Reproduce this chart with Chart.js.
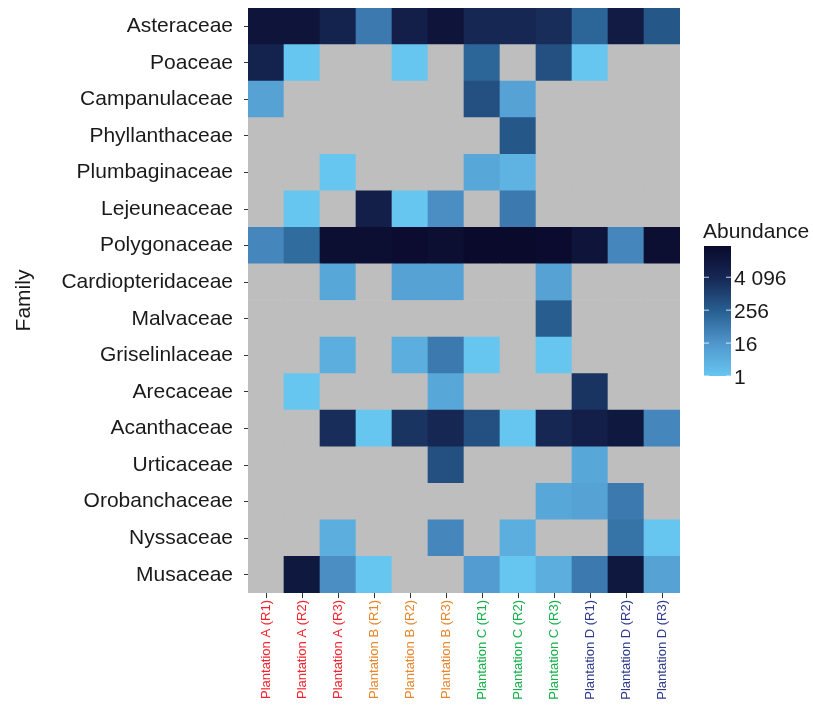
<!DOCTYPE html>
<html>
<head>
<meta charset="utf-8">
<script src="https://cdn.jsdelivr.net/npm/chart.js@4.4.1/dist/chart.umd.min.js"></script>
<style>
body{margin:0;background:#fff;}
canvas{display:block;}
</style>
</head>
<body>
<canvas id="heatmap" width="813" height="709"></canvas>
<script>

const families=["Asteraceae","Poaceae","Campanulaceae","Phyllanthaceae","Plumbaginaceae","Lejeuneaceae","Polygonaceae","Cardiopteridaceae","Malvaceae","Griselinlaceae","Arecaceae","Acanthaceae","Urticaceae","Orobanchaceae","Nyssaceae","Musaceae"];

const samples=["Plantation A (R1)","Plantation A (R2)","Plantation A (R3)","Plantation B (R1)","Plantation B (R2)","Plantation B (R3)","Plantation C (R1)","Plantation C (R2)","Plantation C (R3)","Plantation D (R1)","Plantation D (R2)","Plantation D (R3)"];

const sampleColors=["#f5222d","#f5222d","#f5222d","#e8862c","#e8862c","#e8862c","#14b04a","#14b04a","#14b04a","#2e3a8e","#2e3a8e","#2e3a8e"];

// abundance per family (rows) and sample (columns), null = not found
const abundance=[
[23000,23000,5800,64,8192,23000,4096,4096,2900,180,11600,360],
[5800,1,null,null,1,null,180,null,512,1,null,null],
[8,null,null,null,null,null,512,8,null,null,null,null],
[null,null,null,null,null,null,null,360,null,null,null,null],
[null,null,1,null,null,null,6,3,null,null,null,null],
[null,1,null,8192,1,23,null,64,null,null,null,null],
[32,128,40000,40000,46000,40000,57000,57000,50000,23000,32,40000],
[null,null,6,null,8,8,null,null,8,null,null,null],
[null,null,null,null,null,null,null,null,256,null,null,null],
[null,null,4,null,4,64,1,null,1,null,null,null],
[null,1,null,null,null,6,null,null,null,2048,null,null],
[null,null,2900,1,2048,4096,512,1,4096,8192,16384,32],
[null,null,null,null,null,512,null,null,null,6,null,null],
[null,null,null,null,null,null,null,null,6,8,64,null],
[null,null,4,null,null,32,null,4,null,null,90,1],
[null,16384,23,1,null,null,11,1,4,64,16384,8]
];

const legendTicks=[1,16,256,4096];
const legendMax=57000;

const naColor="#bdbebd";
const stops=[[0,[103,198,240]],[0.25,[80,150,205]],[0.5,[40,95,145]],[0.75,[22,40,85]],[1,[10,10,45]]];
const fontFamily="'Liberation Sans', Arial, sans-serif";

function fillColor(v){
if(v===null) return naColor;
let t=Math.log2(v)/Math.log2(legendMax);
t=Math.max(0,Math.min(1,t));
for(let i=1;i<stops.length;i++){
if(t<=stops[i][0]){
let a=stops[i-1],b=stops[i];
let f=(t-a[0])/(b[0]-a[0]);
let c=a[1].map((x,k)=>Math.round(x+(b[1][k]-x)*f));
return "rgb("+c.join(",")+")";
}
}
return "rgb(10,10,45)";
}

// bottom row first so it stacks at the bottom
const datasets=[];
for(let r=families.length-1;r>=0;r--){
datasets.push({
label:families[r],
data:samples.map(()=>1),
backgroundColor:abundance[r].map(fillColor),
borderWidth:0,
barPercentage:1,
categoryPercentage:1
});
}

const colorBar={
id:"colorBar",
afterDraw(chart){
const c=chart.ctx;
const x=704,w=27,top=246,bottom=376;
const lmax=Math.log2(legendMax);
let g=c.createLinearGradient(0,bottom,0,top);
for(let i=0;i<=20;i++){
g.addColorStop(i/20,fillColor(Math.pow(2,lmax*i/20)));
}
c.save();
c.fillStyle=g;
c.fillRect(x,top,w,bottom-top);
c.font="21px "+fontFamily;
c.fillStyle="#1a1a1a";
c.textBaseline="alphabetic";
c.fillText("Abundance",703,238);
c.textBaseline="middle";
legendTicks.forEach(v=>{
let y=bottom-(Math.log2(v)/lmax)*(bottom-top);
c.strokeStyle="rgba(255,255,255,0.8)";
c.lineWidth=1;
c.beginPath();
c.moveTo(x,y);c.lineTo(x+5,y);
c.moveTo(x+w-5,y);c.lineTo(x+w,y);
c.stroke();
c.fillStyle="#1a1a1a";
c.fillText(v===4096?"4 096":String(v),x+w+3,y+2);
});
c.restore();
}
};

const ctx=document.getElementById("heatmap");

const chart=new Chart(ctx,{
type:"bar",
data:{labels:samples,datasets:datasets},
options:{
responsive:false,
animation:false,
layout:{padding:{top:8,right:133,left:0,bottom:0}},
plugins:{legend:{display:false},tooltip:{enabled:false}},
scales:{
x:{
stacked:true,
afterFit:s=>{s.height=116;s.paddingLeft=0;s.paddingRight=0;},
grid:{display:true,drawOnChartArea:false,offset:false,tickLength:5,tickColor:"#333",lineWidth:1},
border:{display:false},
ticks:{
minRotation:90,maxRotation:90,autoSkip:false,padding:2,
font:{family:fontFamily,size:13},
color:c=>sampleColors[c.index]
}
},
y:{
stacked:true,
min:0,max:families.length,
afterFit:s=>{s.width=248;s.paddingTop=0;s.paddingBottom=0;},
afterBuildTicks:s=>{s.ticks=families.map((f,i)=>({value:i+0.5}));},
grid:{display:true,drawOnChartArea:false,tickLength:4,tickColor:"#333",lineWidth:1},
border:{display:false},
title:{display:true,text:"Family",color:"#1a1a1a",padding:{top:12},font:{family:fontFamily,size:21}},
ticks:{
autoSkip:false,padding:11,color:"#1a1a1a",
font:{family:fontFamily,size:21},
callback:v=>families[families.length-1-Math.floor(v)]
}
}
}
},
plugins:[colorBar]
});

</script>
</body>
</html>
